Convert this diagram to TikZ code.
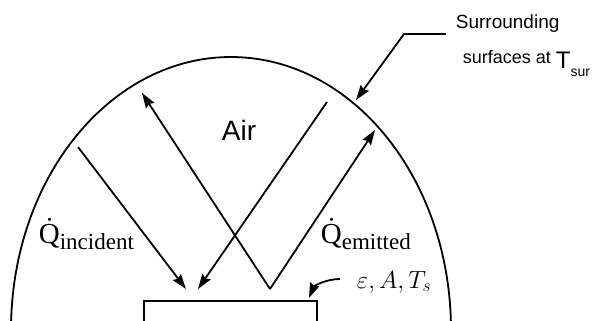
\documentclass[tikz,border=0pt]{standalone}
\usepackage{fontspec}
\setmainfont{Liberation Serif}
\newfontfamily\arialfont{Liberation Sans}
\usetikzlibrary{arrows.meta}

\begin{document}
\begin{tikzpicture}[
  x=1pt, y=-1pt,
  line width=1.8pt,
  ray/.style={draw, -{Stealth[length=15pt,width=10pt,inset=2pt]}},
  lbl/.style={inner sep=0pt, anchor=base west},
]
\useasboundingbox (0,0) rectangle (600,321);

% dome of surroundings
\draw (231,330) ++(181.9:220 and 273)
  arc[start angle=181.9, end angle=358.1, x radius=220, y radius=273];

% surface
\draw (144,321) |- (317,301) -- (317,321);

% rays
\coordinate (vbot) at (270,289);
\coordinate (incfrom) at (78,147);
\coordinate (incto) at (186,289);
\coordinate (reffrom) at (327,102);
\coordinate (refto) at (198,289);
\coordinate (upto) at (142,93);
\coordinate (emito) at (375,130);
\draw[ray] (incfrom) -- (incto);
\draw[ray] (reffrom) -- (refto);
\draw[ray] (vbot) -- (upto);
\draw[ray] (vbot) -- (emito);

% labels
\node[inner sep=0pt, font=\arialfont\fontsize{28}{28}\selectfont] (air) at (239,130) {Air};
\node[lbl] (qinc) at (38,243)
  {{\fontsize{29}{29}\selectfont\.{Q}}\raisebox{-6pt}{\fontsize{23}{23}\selectfont incident}};
\node[lbl] (qemit) at (320,243)
  {{\fontsize{29}{29}\selectfont\.{Q}}\raisebox{-6pt}{\fontsize{23}{23}\selectfont emitted}};
\node[lbl, font=\fontsize{23}{23}\selectfont] (props) at (356,288) {$\varepsilon, A, T_s$};

\node[lbl, font=\arialfont\fontsize{19}{19}\selectfont] (surr) at (455,29) {Surrounding};
\node[lbl, font=\arialfont\fontsize{18}{18}\selectfont] (surf) at (462,64)
  {surfaces at \raisebox{-5pt}{\fontsize{24}{24}\selectfont T}\raisebox{-13pt}{\fontsize{14}{14}\selectfont sur}};

% leaders
\coordinate (surrA) at (446,34);
\coordinate (surrB) at (404,34);
\coordinate (surrC) at (356,100);
\draw[ray] (surrA) -- (surrB) -- (surrC);
\coordinate (propsA) at (340,279);
\coordinate (propsB) at (309,298);
\draw[ray] (propsA) .. controls (326,279) and (314,286) .. (propsB);
\end{tikzpicture}
\end{document}
